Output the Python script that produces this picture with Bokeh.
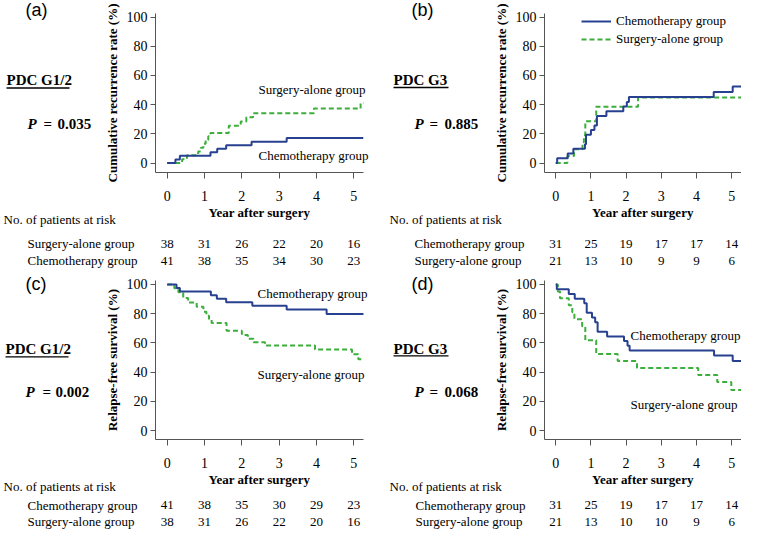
from bokeh.plotting import figure
from bokeh.models import Range1d, Legend, LegendItem, FixedTicker
from bokeh.layouts import column, row
from bokeh.core.properties import value
from bokeh.embed import file_html
from bokeh.resources import INLINE

SERIF = "Liberation Serif"
SANS = "Liberation Sans"
BLUE = "#27408f"
GREEN = "#3cae3c"
AXIS = "#555555"

# ---------------- data ----------------
years = [0, 1, 2, 3, 4, 5]
y_ticks = [0, 20, 40, 60, 80, 100]
group_chemo = "Chemotherapy group"
group_surg = "Surgery-alone group"

# (a) cumulative recurrence, PDC G1/2
a_chemo_t = [0, 0.22, 0.34, 1.16, 1.34, 1.58, 2.26, 3.20, 5.26]
a_chemo_v = [0, 2.4, 4.9, 7.3, 9.8, 12.2, 14.6, 17.1, 17.1]
a_surg_t = [0, 0.40, 0.53, 0.83, 0.90, 0.97, 1.03, 1.10, 1.16, 1.65, 1.97, 2.12, 2.30, 3.93, 5.18, 5.26]
a_surg_v = [0, 2.6, 5.3, 7.9, 10.5, 13.2, 15.8, 18.4, 20.5, 25.6, 28.5, 31.3, 34.2, 37.3, 41.3, 41.3]
a_risk_surg = [38, 31, 26, 22, 20, 16]
a_risk_chemo = [41, 38, 35, 34, 30, 23]

# (b) cumulative recurrence, PDC G3
b_chemo_t = [0, 0.04, 0.34, 0.50, 0.83, 0.86, 1.00, 1.10, 1.17, 1.44, 1.92, 2.02, 2.08, 4.49, 5.03, 5.28]
b_chemo_v = [0, 3.2, 6.5, 9.7, 12.9, 19.4, 22.6, 25.8, 32.3, 35.5, 38.7, 41.9, 45.2, 48.6, 52.4, 52.4]
b_surg_t = [0, 0.33, 0.52, 0.76, 0.80, 0.84, 1.15, 2.34, 5.28]
b_surg_v = [0, 4.8, 9.5, 14.3, 19.0, 28.6, 38.6, 45.0, 45.0]
b_risk_chemo = [31, 25, 19, 17, 17, 14]
b_risk_surg = [21, 13, 10, 9, 9, 6]

# (c) relapse-free survival, PDC G1/2
c_chemo_t = [0, 0.25, 0.34, 1.17, 1.33, 1.58, 2.28, 3.20, 4.27, 5.27]
c_chemo_v = [100, 97.6, 95.1, 92.7, 90.2, 87.8, 85.4, 82.9, 79.8, 79.8]
c_surg_t = [0, 0.19, 0.30, 0.43, 0.56, 0.79, 0.97, 1.05, 1.12, 1.19, 1.59, 2.00, 2.16, 2.31, 2.62, 3.96, 4.95, 5.12, 5.27]
c_surg_v = [100, 97.4, 94.7, 90.8, 87.6, 84.8, 81.4, 78.6, 76.3, 73.7, 68.4, 65.4, 62.8, 60.5, 58.2, 55.5, 52.3, 48.8, 48.8]
c_risk_chemo = [41, 38, 35, 30, 29, 23]
c_risk_surg = [38, 31, 26, 22, 20, 16]

# (d) relapse-free survival, PDC G3
d_chemo_t = [0, 0.03, 0.37, 0.54, 0.81, 0.88, 1.03, 1.12, 1.19, 1.46, 1.94, 2.04, 2.10, 4.50, 5.03, 5.28]
d_chemo_v = [100, 96.8, 93.5, 90.3, 87.1, 80.6, 77.4, 74.2, 67.7, 64.5, 61.3, 58.1, 54.8, 51.4, 47.6, 47.6]
d_surg_t = [0, 0.06, 0.12, 0.37, 0.47, 0.53, 0.75, 0.84, 1.15, 1.76, 2.31, 4.05, 4.59, 4.99, 5.28]
d_surg_v = [100, 95.2, 90.5, 85.7, 81.0, 76.2, 71.4, 61.9, 52.4, 47.6, 42.9, 38.1, 33.3, 27.8, 27.8]
d_risk_chemo = [31, 25, 19, 17, 17, 14]
d_risk_surg = [21, 13, 10, 10, 9, 6]


# ---------------- helpers ----------------
def make_panel(fig_w, fig_h, fl, ft, fw, fh, xr, yr, ylabel):
    p = figure(width=fig_w, height=fig_h, x_range=Range1d(*xr), y_range=Range1d(*yr),
               output_backend="svg", toolbar_location=None,
               min_border_left=fl, min_border_right=fig_w - fl - fw,
               min_border_top=ft, min_border_bottom=fig_h - ft - fh)
    p.outline_line_color = None
    p.xgrid.visible = False
    p.ygrid.visible = False
    p.background_fill_color = "white"
    p.border_fill_color = "white"
    for ax in (p.xaxis[0], p.yaxis[0]):
        ax.axis_line_color = AXIS
        ax.major_tick_line_color = AXIS
        ax.minor_tick_line_color = None
        ax.major_tick_in = 0
        ax.major_label_text_font = SERIF
        ax.major_label_text_font_size = "14px"
        ax.major_label_text_color = "black"
        ax.axis_label_text_font = SERIF
        ax.axis_label_text_font_size = "13px"
        ax.axis_label_text_font_style = "bold"
        ax.axis_label_text_color = "black"
    p.xaxis.ticker = FixedTicker(ticks=years)
    p.yaxis.ticker = FixedTicker(ticks=y_ticks)
    p.xaxis.major_tick_out = 6
    p.xaxis.major_label_standoff = 12
    p.xaxis.axis_label_standoff = 1
    p.yaxis.major_tick_out = 5
    p.yaxis.major_label_standoff = 3
    p.yaxis.axis_label_standoff = 4
    p.xaxis.axis_label = "Year after surgery"
    p.yaxis.axis_label = ylabel

    def fx(px):
        return xr[0] + (px - fl) / fw * (xr[1] - xr[0])

    def fy(py):
        return yr[1] - (py - ft) / fh * (yr[1] - yr[0])

    return p, fx, fy


def text(p, xs, ys, ts, size="13px", style="normal", font=SERIF, align="left"):
    p.text(x=xs, y=ys, text=ts, text_font=value(font), text_font_size=value(size),
           text_font_style=style, text_align=align, text_baseline="middle",
           text_color="black", level="overlay")


def decorate(p, fx, fy, letter, lx, ly, grade, gx, gy, gw, uy, pval, px, peq, pv, py,
             hdr_x, hdr_y, row_x, r1y, r2y, r1name, r1vals, r2name, r2vals):
    text(p, [fx(lx)], [fy(ly)], [letter], size="18px", font=SANS)
    text(p, [fx(gx)], [fy(gy)], [grade], size="15px", style="bold")
    p.segment(x0=[fx(gx)], y0=[fy(uy)], x1=[fx(gx + gw)], y1=[fy(uy)],
              line_color="black", line_width=1.3, level="overlay")
    text(p, [fx(px)], [fy(py)], ["P"], size="15px", style="bold italic")
    text(p, [fx(peq), fx(pv)], [fy(py), fy(py)], ["=", pval], size="15px", style="bold")
    text(p, [fx(hdr_x), fx(row_x), fx(row_x)], [fy(hdr_y), fy(r1y), fy(r2y)],
         ["No. of patients at risk", r1name, r2name])
    text(p, years + years, [fy(r1y)] * len(years) + [fy(r2y)] * len(years),
         [str(v) for v in r1vals + r2vals], align="center")


def curves(p, ct, cv, st, sv):
    rs = p.step(x=st, y=sv, mode="after", line_color=GREEN, line_width=2, line_dash="5 3")
    rc = p.step(x=ct, y=cv, mode="after", line_color=BLUE, line_width=2)
    return rc, rs


TOP_H, BOT_H = 268, 261
LEFT_W, RIGHT_W = 372, 369
XR_L = (-0.313, 5.258)
XR_R = (-0.32, 5.28)
YR_T = (-6.5, 102.5)
YR_B = (-6.0, 102.7)

# ---------------- (a) ----------------
pa, fxa, fya = make_panel(LEFT_W, TOP_H, 155, 13, 208, 159, XR_L, YR_T,
                          "Cumulative recurrence rate (%)")
curves(pa, a_chemo_t, a_chemo_v, a_surg_t, a_surg_v)
text(pa, [fxa(258), fxa(258)], [fya(89), fya(155)], [group_surg, group_chemo])
decorate(pa, fxa, fya, "(a)", 25, 9, "PDC G1/2", 6, 79, 63, 87.5,
         "0.035", 27, 43, 57, 123,
         3, 219, 27, 243, 260, group_surg, a_risk_surg, group_chemo, a_risk_chemo)

# ---------------- (b) ----------------
pb, fxb, fyb = make_panel(RIGHT_W, TOP_H, 172, 13, 197, 159, XR_R, YR_T,
                          "Cumulative recurrence rate (%)")
rbc, rbs = curves(pb, b_chemo_t, b_chemo_v, b_surg_t, b_surg_v)
legend = Legend(items=[LegendItem(label=group_chemo, renderers=[rbc]),
                       LegendItem(label=group_surg, renderers=[rbs])],
                location=(37, 125), border_line_color=None, background_fill_alpha=0,
                padding=0, margin=0, spacing=2, glyph_width=30, glyph_height=16,
                label_height=16, label_standoff=5, label_text_font=SERIF,
                label_text_font_size="13px", label_text_color="black")
pb.add_layout(legend)
decorate(pb, fxb, fyb, "(b)", 39, 9, "PDC G3", 21, 79, 55, 87,
         "0.885", 42, 57, 72, 123,
         17, 219, 42, 243, 260, group_chemo, b_risk_chemo, group_surg, b_risk_surg)

# ---------------- (c) ----------------
pc, fxc, fyc = make_panel(LEFT_W, BOT_H, 155, 12, 208, 159, XR_L, YR_B,
                          "Relapse-free survival (%)")
curves(pc, c_chemo_t, c_chemo_v, c_surg_t, c_surg_v)
text(pc, [fxc(257), fxc(257)], [fyc(25), fyc(106)], [group_chemo, group_surg])
decorate(pc, fxc, fyc, "(c)", 25, 15, "PDC G1/2", 5, 80.5, 63, 88.3,
         "0.002", 25, 42, 55, 123,
         3, 218, 27, 236.5, 253, group_chemo, c_risk_chemo, group_surg, c_risk_surg)

# ---------------- (d) ----------------
pd_, fxd, fyd = make_panel(RIGHT_W, BOT_H, 172, 12, 197, 159, XR_R, YR_B,
                           "Relapse-free survival (%)")
curves(pd_, d_chemo_t, d_chemo_v, d_surg_t, d_surg_v)
text(pd_, [fxd(258), fxd(258)], [fyd(67), fyd(136)], [group_chemo, group_surg])
decorate(pd_, fxd, fyd, "(d)", 39, 15, "PDC G3", 21, 80, 55, 87.3,
         "0.068", 42, 57, 72, 123,
         17, 218, 43, 236.5, 253, group_chemo, d_risk_chemo, group_surg, d_risk_surg)

layout = column(row(pa, pb), row(pc, pd_))
open("out.html", "w").write(file_html(layout, INLINE))
